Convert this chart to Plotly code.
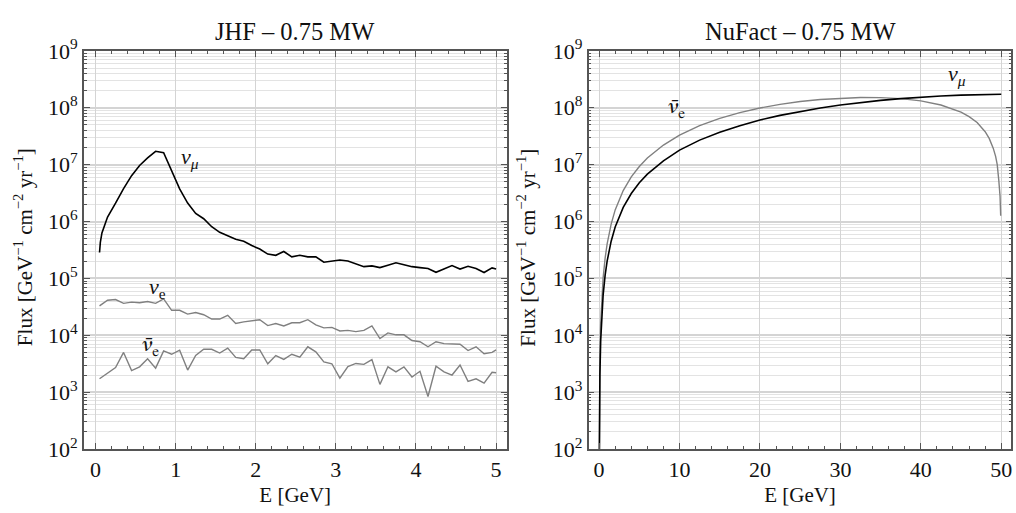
import plotly.graph_objects as go

# ---------------- data ----------------
# JHF (left panel)
E_jhf_numu = [0.05, 0.06, 0.08, 0.15, 0.25, 0.35, 0.45, 0.55, 0.65, 0.75, 0.85, 0.95, 1.05, 1.15,
              1.25, 1.35, 1.45, 1.55, 1.65, 1.75, 1.85, 1.95, 2.05, 2.15, 2.25, 2.35, 2.45, 2.55,
              2.65, 2.75, 2.85, 2.95, 3.05, 3.15, 3.25, 3.35, 3.45, 3.55, 3.65, 3.75, 3.85, 3.95,
              4.05, 4.15, 4.25, 4.35, 4.45, 4.55, 4.65, 4.75, 4.85, 4.95, 5.0]
jhf_numu = [2.86e5, 4.3e5, 6.3e5, 1.2e6, 2.1e6, 3.8e6, 6.4e6, 9.7e6, 1.32e7, 1.72e7, 1.62e7, 7.55e6,
            3.75e6, 2.11e6, 1.39e6, 1.12e6, 8.1e5, 6.47e5, 5.55e5, 4.89e5, 4.5e5, 3.78e5, 3.29e5,
            2.68e5, 2.55e5, 2.97e5, 2.39e5, 2.55e5, 2.39e5, 2.39e5, 1.93e5, 2.03e5, 2.11e5, 2.03e5,
            1.83e5, 1.61e5, 1.66e5, 1.55e5, 1.70e5, 1.88e5, 1.74e5, 1.61e5, 1.55e5, 1.49e5, 1.28e5,
            1.49e5, 1.68e5, 1.46e5, 1.63e5, 1.49e5, 1.27e5, 1.53e5, 1.46e5]

E_jhf = [0.05, 0.15, 0.25, 0.35, 0.45, 0.55, 0.65, 0.75, 0.85, 0.95, 1.05, 1.15, 1.25, 1.35, 1.45,
         1.55, 1.65, 1.75, 1.85, 1.95, 2.05, 2.15, 2.25, 2.35, 2.45, 2.55, 2.65, 2.75, 2.85, 2.95,
         3.05, 3.15, 3.25, 3.35, 3.45, 3.55, 3.65, 3.75, 3.85, 3.95, 4.05, 4.15, 4.25, 4.35, 4.45,
         4.55, 4.65, 4.75, 4.85, 4.95, 5.0]
jhf_nue = [32900, 41400, 42500, 36400, 38300, 37300, 39300, 36400, 43600, 27500, 27500, 23600,
           25200, 23000, 19300, 19300, 22400, 16100, 17200, 17900, 18800, 14800, 16100, 14600,
           16600, 16600, 18800, 15300, 13500, 13800, 11900, 12200, 11600, 12200, 14600, 8750,
           11000, 10200, 10200, 8110, 7710, 6280, 7710, 7140, 7140, 6970, 5400, 6280, 4750,
           5000, 5530]
jhf_nuebar = [1720, 2190, 2720, 5000, 2390, 2790, 3870, 2650, 5330, 4640, 5470, 2450, 4410, 5680,
              5680, 4880, 5970, 4080, 3870, 5530, 5530, 3160, 4410, 3780, 4640, 4130, 6280, 5130,
              3410, 3160, 1760, 2820, 3200, 3080, 3730, 1370, 2790, 2270, 2790, 1850, 2330, 841,
              2860, 2270, 2000, 3000, 1550, 1720, 1440, 2240, 2190]

# NuFact (right panel)
E_nf = [0.01, 0.02, 0.05, 0.1, 0.2, 0.3, 0.5, 0.75, 1, 1.5, 2, 3, 4, 5, 6, 8, 10, 12.5, 15, 17.5,
        20, 22.5, 25, 27.5, 30, 32.5, 35, 37.5, 40, 42.5, 45, 47.5, 50]
nf_numu = [20, 82, 513, 2050, 8200, 1.84e4, 5.1e4, 1.14e5, 2.02e5, 4.52e5, 8.0e5, 1.77e6, 3.11e6,
           4.8e6, 6.8e6, 1.17e7, 1.8e7, 2.7e7, 3.7e7, 4.85e7, 6.1e7, 7.35e7, 8.6e7, 9.9e7, 1.12e8,
           1.24e8, 1.35e8, 1.45e8, 1.54e8, 1.61e8, 1.67e8, 1.71e8, 1.73e8]

E_nf_bar = [0.01, 0.02, 0.05, 0.1, 0.2, 0.3, 0.5, 0.75, 1, 1.5, 2, 3, 4, 5, 6, 8, 10, 12.5, 15,
            17.5, 20, 22.5, 25, 27.5, 30, 32.5, 35, 37.5, 40, 42.5, 45, 46, 47, 47.5, 48, 48.5,
            49, 49.3, 49.5, 49.7, 49.85, 49.93]
nf_nuebar = [41, 165, 1030, 4100, 1.64e4, 3.69e4, 1.02e5, 2.28e5, 4.04e5, 9.0e5, 1.6e6, 3.5e6,
             6.1e6, 9.3e6, 1.31e7, 2.21e7, 3.3e7, 4.85e7, 6.5e7, 8.2e7, 9.9e7, 1.15e8, 1.29e8,
             1.40e8, 1.48e8, 1.52e8, 1.51e8, 1.45e8, 1.32e8, 1.12e8, 8.4e7, 7.0e7, 5.5e7, 4.65e7,
             3.8e7, 2.9e7, 1.95e7, 1.4e7, 1.0e7, 5.2e6, 2.8e6, 1.26e6]

titles = ["JHF \u2013 0.75 MW", "NuFact \u2013 0.75 MW"]
ytick_vals = [1e2, 1e3, 1e4, 1e5, 1e6, 1e7, 1e8, 1e9]
ytick_text = ["10<sup>%d</sup>" % p for p in range(2, 10)]

# ---------------- style ----------------
W, H = 1016, 513
FONT = "Liberation Serif"
BARFONT = "FreeSerif, Liberation Serif"
BLACK = "#000000"
GRAY = "#808080"
FRAME = "#555555"
GRID = "#d4d4d4"
MGRID = "#e3e3e3"
TXT = "#111111"

fig = go.Figure()

fig.add_trace(go.Scatter(x=E_jhf_numu, y=jhf_numu, mode="lines", line=dict(color=BLACK, width=1.6),
                         xaxis="x", yaxis="y", showlegend=False))
fig.add_trace(go.Scatter(x=E_jhf, y=jhf_nue, mode="lines", line=dict(color=GRAY, width=1.4),
                         xaxis="x", yaxis="y", showlegend=False))
fig.add_trace(go.Scatter(x=E_jhf, y=jhf_nuebar, mode="lines", line=dict(color=GRAY, width=1.4),
                         xaxis="x", yaxis="y", showlegend=False))
fig.add_trace(go.Scatter(x=E_nf_bar, y=nf_nuebar, mode="lines", line=dict(color=GRAY, width=1.4),
                         xaxis="x2", yaxis="y2", showlegend=False))
fig.add_trace(go.Scatter(x=E_nf, y=nf_numu, mode="lines", line=dict(color=BLACK, width=1.6),
                         xaxis="x2", yaxis="y2", showlegend=False))

ydom = [1 - 459 / H, 1 - 37 / H]
minor_y = [m * 10 ** d for d in range(2, 9) for m in range(2, 10)]


def xax(domain, rng, dtick, mdtick, anchor):
    return dict(domain=domain, range=rng, anchor=anchor, dtick=dtick, tick0=0,
                showline=True, linecolor=FRAME, linewidth=1.5, mirror="allticks",
                ticks="inside", ticklen=6, tickcolor=FRAME, tickwidth=1,
                showgrid=True, gridcolor=GRID, gridwidth=1.2, zeroline=False,
                tickfont=dict(family=FONT, size=22, color=TXT),
                minor=dict(dtick=mdtick, tick0=0, ticks="inside", ticklen=3, tickcolor=FRAME,
                           showgrid=False),
                title=dict(text="E [GeV]", font=dict(family=FONT, size=21, color=TXT), standoff=6))


def yax(domain, anchor):
    return dict(domain=domain, type="log", range=[2, 9], anchor=anchor,
                tickvals=ytick_vals, ticktext=ytick_text,
                showline=True, linecolor=FRAME, linewidth=1.5, mirror="allticks",
                ticks="inside", ticklen=6, tickcolor=FRAME, tickwidth=1,
                showgrid=True, gridcolor=GRID, gridwidth=1.6, zeroline=False,
                tickfont=dict(family=FONT, size=22, color=TXT),
                minor=dict(tickvals=minor_y, ticks="inside", ticklen=3, tickcolor=FRAME,
                           showgrid=True, gridcolor=MGRID, gridwidth=1))


fig.update_layout(
    width=W, height=H, margin=dict(l=0, r=0, t=0, b=0),
    paper_bgcolor="white", plot_bgcolor="white",
    font=dict(family=FONT, size=21, color=TXT),
    xaxis=xax([84 / W, 507 / W], [-0.145, 5.13], 1, 0.2, "y"),
    yaxis=yax(ydom, "x"),
    xaxis2=xax([589.3 / W, 1012.3 / W], [-1.29, 51.25], 10, 2, "y2"),
    yaxis2=yax(ydom, "x2"),
)

ytitle = "Flux [GeV<sup>\u22121</sup> cm<sup>\u22122</sup> yr<sup>\u22121</sup>]"
ann = []
for cx, t in zip([295.5 / W, 800.8 / W], titles):
    ann.append(dict(xref="paper", yref="paper", x=cx, y=1 - 16 / H, text=t, showarrow=False,
                    xanchor="center", yanchor="middle", font=dict(family=FONT, size=24.5, color=TXT)))
for tx in [23 / W, 527 / W]:
    ann.append(dict(xref="paper", yref="paper", x=tx, y=1 - 245 / H, text=ytitle, showarrow=False,
                    textangle=-90, xanchor="center", yanchor="middle",
                    font=dict(family=FONT, size=21, color=TXT)))

labels = [
    ("x", "y", 1.18, 7.12, "<i>\u03bd</i><sub><i>\u03bc</i></sub>", FONT),
    ("x", "y", 0.77, 4.84, "<i>\u03bd</i><sub>e</sub>", FONT),
    ("x", "y", 0.68, 3.82, "<i>\u03bd\u0304</i><sub>e</sub>", BARFONT),
    ("x2", "y2", 9.6, 8.0, "<i>\u03bd\u0304</i><sub>e</sub>", BARFONT),
    ("x2", "y2", 44.5, 8.58, "<i>\u03bd</i><sub><i>\u03bc</i></sub>", FONT),
]
for xr, yr, lx, ly, t, fam in labels:
    ann.append(dict(xref=xr, yref=yr, x=lx, y=ly, text=t, showarrow=False,
                    xanchor="center", yanchor="middle",
                    font=dict(family=fam, size=22, color=TXT)))

fig.update_layout(annotations=ann)
fig.write_html("out.html")
